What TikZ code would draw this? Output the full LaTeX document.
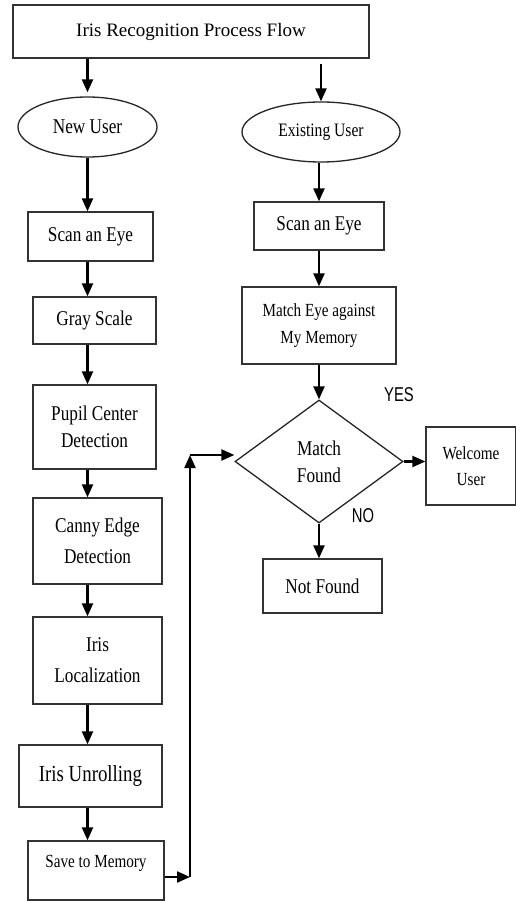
\documentclass[tikz,border=0pt]{standalone}
\usepackage{fontspec}
\setmainfont[FakeStretch=0.82]{Liberation Serif}
\newfontfamily\titlefont{Liberation Serif}
\newfontfamily\yesnofont[FakeStretch=0.74]{Liberation Sans}
\usetikzlibrary{shapes.geometric,arrows.meta}
\tikzset{
  box/.style={draw=black!80, line width=1.3pt, rectangle, inner sep=0pt, align=center,
              font=\fontsize{21}{27}\selectfont},
  oval/.style={draw=black!85, line width=1.3pt, ellipse, inner sep=0pt, align=center,
              font=\fontsize{21}{25}\selectfont},
  decision/.style={draw=black!85, line width=1.3pt, diamond, inner sep=0pt, align=center,
              font=\fontsize{21}{27}\selectfont},
  arr/.style={line width=2.2pt, -{Triangle[length=13pt,width=11pt]}},
  flag/.style={font=\yesnofont\fontsize{20}{24}\selectfont}
}
\begin{document}
\begin{tikzpicture}[x=1pt,y=-1pt]
\useasboundingbox (0,0) rectangle (516,901);
\fill[white] (0,0) rectangle (516,901);

% title bar
\node[box, minimum width=356, minimum height=53, font=\titlefont\fontsize{19}{23}\selectfont]
  (title) at (191,31.5) {Iris Recognition Process Flow};

% start ovals
\node[oval, minimum width=139, minimum height=60] (newuser) at (87.5,127) {New User};
\node[oval, minimum width=158, minimum height=60, font=\fontsize{19}{23}\selectfont]
  (exuser) at (321,132) {Existing User};

% enrolment column
\node[box, minimum width=125, minimum height=49] (scanL) at (90.5,236.5) {Scan an Eye};
\node[box, minimum width=123, minimum height=47] (gray) at (94.5,320.5) {Gray Scale};
\node[box, minimum width=123, minimum height=84] (pupil) at (94.5,427) {Pupil Center\\Detection};
\node[box, minimum width=129, minimum height=86, font=\fontsize{21}{31}\selectfont]
  (canny) at (97.5,541) {Canny Edge\\Detection};
\node[box, minimum width=129, minimum height=87, font=\fontsize{21}{31}\selectfont]
  (irisloc) at (97.5,660.5) {Iris\\Localization};
\node[box, minimum width=143, minimum height=62, font=\fontsize{23}{27}\selectfont]
  (unroll) at (90.5,776) {Iris Unrolling};
\node[box, minimum width=136, minimum height=59] (save) at (96,870.5) {};
\node[font=\fontsize{18.5}{22}\selectfont, inner sep=0pt] (savetxt) at (96,863) {Save to Memory};

% verification column
\node[box, minimum width=130, minimum height=48] (scanR) at (319,226) {Scan an Eye};
\node[box, minimum width=154, minimum height=77, font=\fontsize{18.5}{27}\selectfont]
  (match) at (319,325.5) {Match Eye against\\My Memory};
\node[decision, minimum width=168, minimum height=123] (found) at (319,461.5) {Match\\Found};
\node[box, minimum width=90, minimum height=78, font=\fontsize{18.5}{26}\selectfont]
  (welcome) at (471,466) {Welcome\\User};
\node[box, minimum width=119, minimum height=54] (notfound) at (322.5,586) {Not Found};

\node[flag] (yes) at (399,395) {YES};
\node[flag] (no) at (363,516) {NO};

% connectors: title to ovals
\draw[arr, shorten >=4pt] (title.south -| newuser.north) -- (newuser.north);
\draw[arr, shorten <=5pt] (title.south -| exuser.north) -- (exuser.north);

% enrolment chain
\draw[arr] (newuser.south) -- (scanL.north -| newuser.south);
\draw[arr] (scanL.south -| newuser.south) -- (gray.north -| newuser.south);
\draw[arr] (gray.south -| newuser.south) -- (pupil.north -| newuser.south);
\draw[arr] (pupil.south -| newuser.south) -- (canny.north -| newuser.south);
\draw[arr] (canny.south -| newuser.south) -- (irisloc.north -| newuser.south);
\draw[arr] (irisloc.south -| newuser.south) -- (unroll.north -| newuser.south);
\draw[arr] (unroll.south -| newuser.south) -- (save.north -| newuser.south);

% verification chain
\draw[arr] (exuser.south -| scanR.north) -- (scanR.north);
\draw[arr] (scanR.south) -- (match.north);
\draw[arr] (match.south) -- (found.north);
\draw[arr] (found.east) -- (welcome.west |- found.east);
\draw[arr] (found.south) -- (notfound.north -| found.south);

% stored template fed back into the match test
\coordinate (c1) at (190,877);
\coordinate (c2) at (190,455);
\draw[arr] (save.east |- c1) -- (c1);
\draw[arr] (c1) -- (c2);
\draw[arr] (c2) -- (c2 -| found.west);
\end{tikzpicture}
\end{document}
